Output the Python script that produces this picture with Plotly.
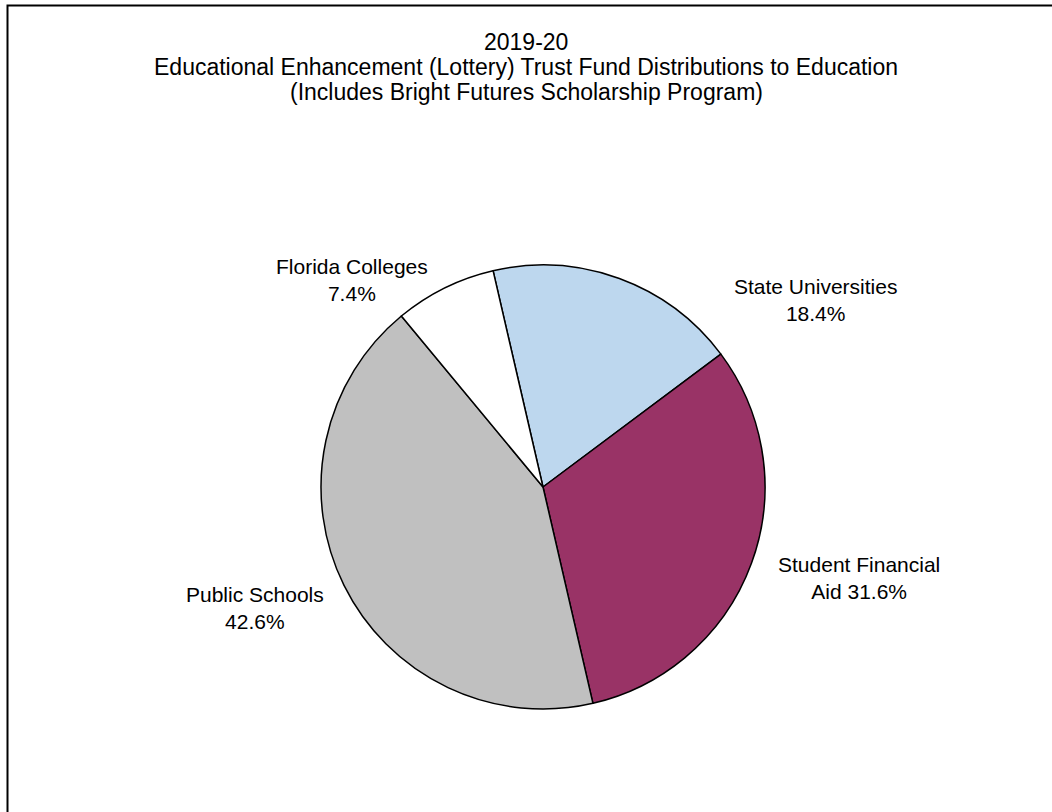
import plotly.graph_objects as go

# ---- data ----
categories = ["State Universities", "Student Financial Aid", "Public Schools", "Florida Colleges"]
shares = [18.4, 31.6, 42.6, 7.4]
label_breaks = ["State Universities<br>", "Student Financial<br>Aid ", "Public Schools<br>", "Florida Colleges<br>"]
colors = ["#BDD7EE", "#993366", "#C0C0C0", "#FFFFFF"]
title_lines = [
    "2019-20",
    "Educational Enhancement (Lottery) Trust Fund Distributions to Education",
    "(Includes Bright Futures Scholarship Program)",
]

W, H = 1052, 812
cx, cy, r = 543, 487, 222
FONT = "Liberation Sans, Arial"

fig = go.Figure()
fig.add_trace(go.Pie(
    labels=categories,
    values=shares,
    sort=False,
    direction="clockwise",
    rotation=-13,
    marker=dict(colors=colors, line=dict(color="black", width=1.5)),
    textinfo="none",
    hoverinfo="label+percent",
    showlegend=False,
    domain=dict(x=[(cx - r) / W, (cx + r) / W], y=[(H - cy - r) / H, (H - cy + r) / H]),
))

# label positions (pixels) for each category annotation
label_pos = [(815, 300), (859, 578), (255, 608), (352, 280)]
annotations = []
for txt, val, (px, py) in zip(label_breaks, shares, label_pos):
    annotations.append(dict(
        text=f"{txt}{val:.1f}%", x=px / W, y=1 - py / H, xref="paper", yref="paper",
        showarrow=False, xanchor="center", yanchor="middle",
        font=dict(family=FONT, size=21, color="black"),
    ))
title_y = [42, 67, 92]
for line, ty in zip(title_lines, title_y):
    annotations.append(dict(
        text=line, x=526 / W, y=1 - ty / H, xref="paper", yref="paper",
        showarrow=False, xanchor="center", yanchor="middle",
        font=dict(family=FONT, size=23, color="black"),
    ))

fig.update_layout(
    width=W, height=H,
    margin=dict(l=0, r=0, t=0, b=0),
    paper_bgcolor="white", plot_bgcolor="white",
    annotations=annotations,
    shapes=[dict(type="rect", xref="paper", yref="paper",
                 x0=7.5 / W, x1=1.05, y0=-0.05, y1=1 - 5.5 / H,
                 line=dict(color="black", width=2))],
)

fig.write_html("out.html", config={"displayModeBar": False},
               post_script="document.body.style.margin='0px';")
